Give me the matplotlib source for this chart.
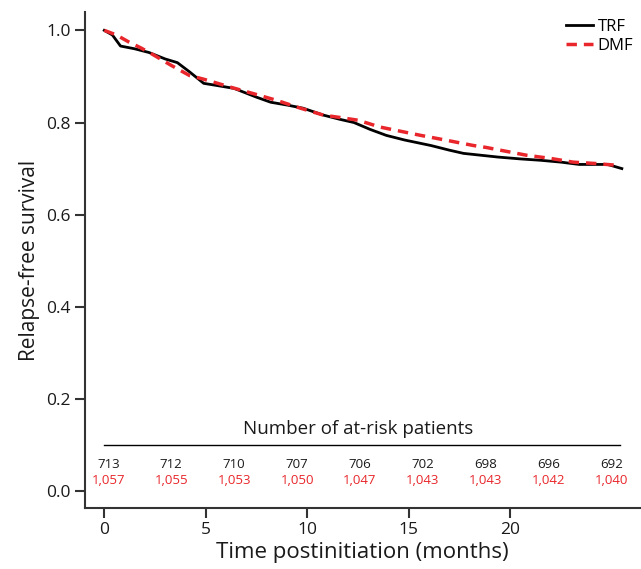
import matplotlib
matplotlib.use("Agg")
from matplotlib import pyplot as plt

plt.rcParams['font.family'] = ['Open Sans', 'DejaVu Sans']

# Kaplan-Meier curves (months, survival)
trf_t = [0, 0.4, 0.8, 1.5, 2.2, 3.0, 3.6, 4.2, 4.9, 5.6, 6.4, 7.5, 8.2,
         9.0, 9.8, 10.8, 11.6, 12.3, 13.1, 13.9, 14.8, 16.1, 17.0, 17.7,
         19.4, 20.5, 21.5, 22.5, 23.4, 24.8, 25.5]
trf_s = [1.0, 0.99, 0.966, 0.96, 0.952, 0.938, 0.93, 0.91, 0.885, 0.88,
         0.874, 0.855, 0.844, 0.838, 0.831, 0.816, 0.807, 0.80, 0.785,
         0.772, 0.762, 0.75, 0.74, 0.733, 0.725, 0.721, 0.718, 0.714,
         0.709, 0.709, 0.70]

dmf_t = [0, 0.6, 1.2, 1.8, 2.3, 3.3, 4.2, 4.9, 6.2, 7.4, 8.5, 9.6, 10.8,
         11.6, 12.5, 13.6, 15.6, 16.8, 18.2, 18.8, 20.8, 22.0, 23.1, 24.2,
         25.3]
dmf_s = [1.0, 0.99, 0.975, 0.962, 0.95, 0.924, 0.902, 0.894, 0.877, 0.862,
         0.848, 0.832, 0.816, 0.811, 0.805, 0.79, 0.772, 0.762, 0.75, 0.746,
         0.729, 0.722, 0.714, 0.711, 0.707]

# at-risk table
risk_t = [0.2, 3.3, 6.4, 9.5, 12.6, 15.7, 18.8, 21.9, 25.0]
risk_trf = ["713", "712", "710", "707", "706", "702", "698", "696", "692"]
risk_dmf = ["1,057", "1,055", "1,053", "1,050", "1,047", "1,043", "1,043",
            "1,042", "1,040"]

xticks = [0, 5, 10, 15, 20]
yticks = [0.0, 0.2, 0.4, 0.6, 0.8, 1.0]

red = "#e8262b"
spine = "#333333"
txt = "#1a1a1a"

fig = plt.figure(figsize=(6.41, 5.69), dpi=100)
ax = fig.add_axes([0.1326, 0.107, 0.866, 0.872])

ax.plot(trf_t, trf_s, color="black", lw=2, label="TRF")
ax.plot(dmf_t, dmf_s, color=red, lw=2.5, ls=(0, (3, 2)), label="DMF")

ax.set_xlim(-0.95, 26.4)
ax.set_ylim(-0.037, 1.04)
ax.set_xticks(xticks)
ax.set_yticks(yticks)
ax.set_yticklabels(["%.1f" % v for v in yticks])

for s in ["top", "right"]:
    ax.spines[s].set_visible(False)
for s in ["left", "bottom"]:
    ax.spines[s].set_color(spine)
    ax.spines[s].set_linewidth(1.5)
ax.tick_params(length=7, width=1.5, color=spine, labelsize=12.5,
               labelcolor=txt, pad=3)

ax.set_xlabel("Time postinitiation (months)", fontsize=16, color=txt,
              labelpad=3)
ax.set_ylabel("Relapse-free survival", fontsize=15, color=txt,
              labelpad=5)

# number at risk
ax.text(12.5, 0.135, "Number of at-risk patients", ha="center",
        va="center", fontsize=13.5, color=txt)
ax.plot([0, 25.4], [0.1, 0.1], color="black", lw=1)
for t, a, b in zip(risk_t, risk_trf, risk_dmf):
    ax.text(t, 0.058, a, ha="center", va="center", fontsize=9.5,
            color=txt)
    ax.text(t, 0.023, b, ha="center", va="center", fontsize=9.5, color=red)

leg = ax.legend(loc="upper right", frameon=False, fontsize=12,
                handlelength=1.6, handletextpad=0.3, labelspacing=0.2,
                borderaxespad=0.0, bbox_to_anchor=(1.0, 1.0))

fig.savefig("out.png", dpi=100)
